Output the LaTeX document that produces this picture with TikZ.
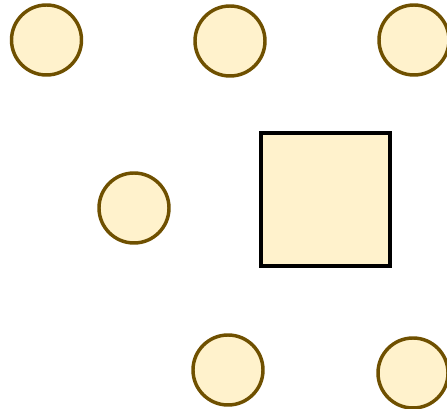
\documentclass[tikz,border=0pt]{standalone}
\usepackage{tikz}

\definecolor{dotfill}{HTML}{FFF2CC}
\definecolor{dotline}{HTML}{6F5000}

\tikzset{
  dot/.style={circle, draw=dotline, fill=dotfill, line width=2.6pt,
    inner sep=0pt, minimum size=52.5pt},
  block/.style={rectangle, draw=black, fill=dotfill, line width=2.6pt,
    inner sep=0pt, minimum width=96.5pt, minimum height=99.5pt}
}

\begin{document}
\begin{tikzpicture}[x=0.75pt,y=-0.75pt]
\useasboundingbox (0,0) rectangle (447,409);
\node[dot] (d1) at (46.5,40) {};
\node[dot] (d2) at (230,41) {};
\node[dot] (d3) at (414,40) {};
\node[dot] (d4) at (134,208) {};
\node[block] (sq) at (325.5,199.5) {};
\node[dot] (d5) at (228,370) {};
\node[dot] (d6) at (413,373) {};
\end{tikzpicture}
\end{document}
